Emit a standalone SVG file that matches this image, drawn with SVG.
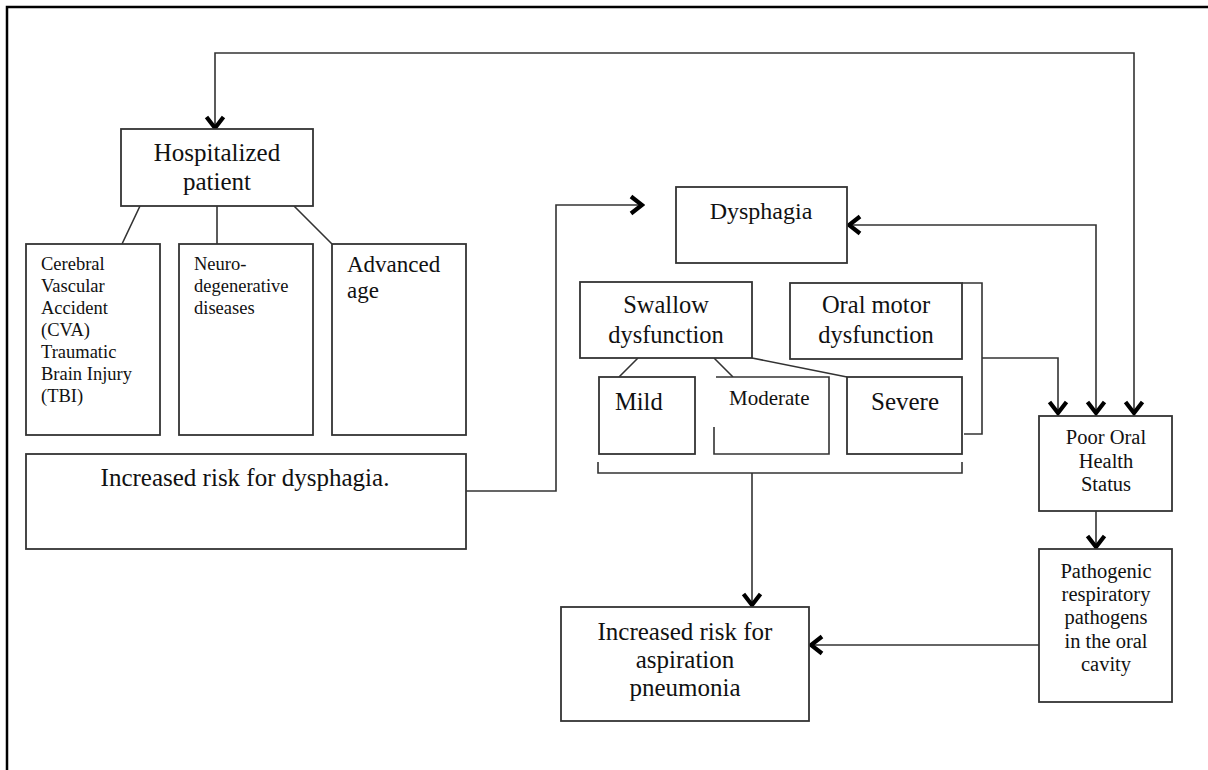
<svg xmlns="http://www.w3.org/2000/svg" width="1208" height="770" viewBox="0 0 1208 770">
<style>
.box{fill:#fff;stroke:#333;stroke-width:1.8}
.ln{fill:none;stroke:#333;stroke-width:1.6}
.t{font-family:"Liberation Serif","Times New Roman",serif;fill:#111}
.c{text-anchor:middle}
</style>
<defs>
<marker id="ah" viewBox="-18 -14 20 28" markerWidth="20" markerHeight="28" refX="0" refY="0" orient="auto-start-reverse" markerUnits="userSpaceOnUse">
<path d="M-12,-8.5 L-1,0 L-12,8.5" fill="none" stroke="#000" stroke-width="4.2" stroke-linejoin="miter"/>
</marker>
</defs>
<rect width="1208" height="770" fill="#fff"/>
<path d="M7,770 V7 H1208" fill="none" stroke="#000" stroke-width="2.5"/>

<g id="connectors">
<path class="ln" d="M215,129 V53 H1134 V414" marker-start="url(#ah)" marker-end="url(#ah)"/>
<path class="ln" d="M466,491 H556 V205 H643" marker-end="url(#ah)"/>
<path class="ln" d="M848,225 H1096 V414" marker-start="url(#ah)" marker-end="url(#ah)"/>
<path class="ln" d="M962,283 H982 V434 H964"/>
<path class="ln" d="M982,358 H1058 V414" marker-end="url(#ah)"/>
<path class="ln" d="M598,462 V473 H962 V462"/>
<path class="ln" d="M752,473 V606" marker-end="url(#ah)"/>
<path class="ln" d="M1096,511 V548" marker-end="url(#ah)"/>
<path class="ln" d="M1039,645 H810" marker-end="url(#ah)"/>
<path class="ln" d="M140,206 L122,244 M217,206 V244 M294,206 L332,244"/>
<path class="ln" d="M638,358 L619,377 M714,358 L733,377 M752,358 L847,377"/>
</g>

<g id="hospitalized">
<rect class="box" x="121" y="129" width="192" height="77"/>
<text class="t c" x="217" y="161" font-size="25">Hospitalized</text>
<text class="t c" x="217" y="190" font-size="25">patient</text>
</g>

<g id="cva">
<rect class="box" x="26" y="244" width="134" height="191"/>
<text class="t" x="41" font-size="18.5"><tspan x="41" y="270">Cerebral</tspan><tspan x="41" y="292">Vascular</tspan><tspan x="41" y="314">Accident</tspan><tspan x="41" y="336">(CVA)</tspan><tspan x="41" y="358">Traumatic</tspan><tspan x="41" y="380">Brain Injury</tspan><tspan x="41" y="402">(TBI)</tspan></text>
</g>

<g id="neuro">
<rect class="box" x="179" y="244" width="134" height="191"/>
<text class="t" font-size="18.5"><tspan x="194" y="270">Neuro-</tspan><tspan x="194" y="292">degenerative</tspan><tspan x="194" y="314">diseases</tspan></text>
</g>

<g id="age">
<rect class="box" x="332" y="244" width="134" height="191"/>
<text class="t" font-size="23"><tspan x="347" y="272">Advanced</tspan><tspan x="347" y="298">age</tspan></text>
</g>

<g id="risk-dysphagia">
<rect class="box" x="26" y="454" width="440" height="95"/>
<text class="t c" x="245" y="486" font-size="25">Increased risk for dysphagia.</text>
</g>

<g id="dysphagia">
<rect class="box" x="676" y="187" width="171" height="76"/>
<text class="t c" x="761" y="219" font-size="24">Dysphagia</text>
</g>

<g id="swallow">
<rect class="box" x="580" y="282" width="172" height="76"/>
<text class="t c" x="666" y="313" font-size="24.5">Swallow</text>
<text class="t c" x="666" y="343" font-size="24.5">dysfunction</text>
</g>

<g id="oral-motor">
<rect class="box" x="790" y="283" width="172" height="76"/>
<text class="t c" x="876" y="313" font-size="24.5">Oral motor</text>
<text class="t c" x="876" y="343" font-size="24.5">dysfunction</text>
</g>

<g id="mild">
<rect class="box" x="599" y="377" width="96" height="77"/>
<text class="t" x="615" y="410" font-size="24.5">Mild</text>
</g>

<g id="moderate">
<rect x="714" y="377" width="115" height="77" fill="#fff"/>
<path class="ln" d="M716,377 H829 V454 H714 V427" stroke-width="1.8"/>
<text class="t" x="729" y="405" font-size="21">Moderate</text>
</g>

<g id="severe">
<rect class="box" x="847" y="377" width="115" height="77"/>
<text class="t" x="871" y="410" font-size="25">Severe</text>
</g>

<g id="poor-oral">
<rect class="box" x="1039" y="416" width="133" height="95"/>
<text class="t c" font-size="20.5"><tspan x="1106" y="444">Poor Oral</tspan><tspan x="1106" y="468">Health</tspan><tspan x="1106" y="491">Status</tspan></text>
</g>

<g id="pathogenic">
<rect class="box" x="1039" y="549" width="133" height="153"/>
<text class="t c" font-size="20.5"><tspan x="1106" y="578">Pathogenic</tspan><tspan x="1106" y="601">respiratory</tspan><tspan x="1106" y="624">pathogens</tspan><tspan x="1106" y="648">in the oral</tspan><tspan x="1106" y="671">cavity</tspan></text>
</g>

<g id="aspiration">
<rect class="box" x="561" y="607" width="248" height="114"/>
<text class="t c" font-size="25"><tspan x="685" y="640">Increased risk for</tspan><tspan x="685" y="668">aspiration</tspan><tspan x="685" y="696">pneumonia</tspan></text>
</g>
</svg>
